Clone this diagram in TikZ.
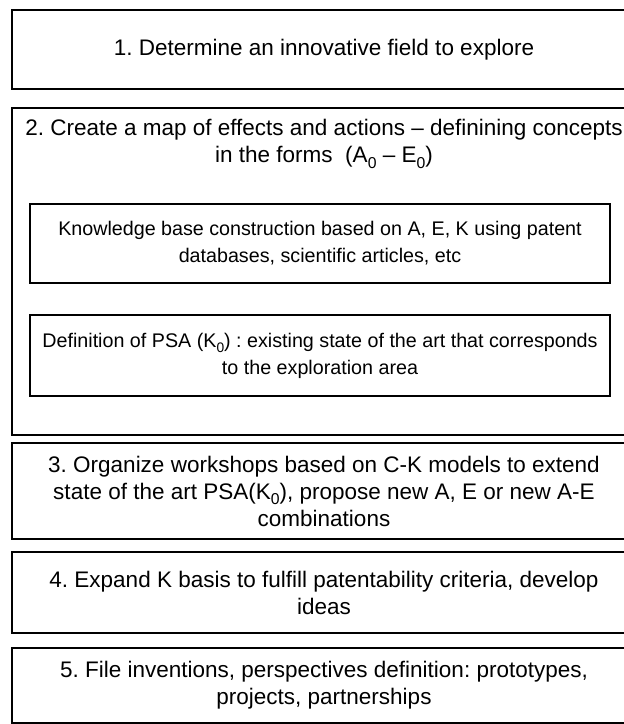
\documentclass[tikz,border=0pt]{standalone}
\usepackage{fontspec}
\setmainfont{Liberation Sans}
\usepackage{tikz}
\frenchspacing
\newcommand{\lowsub}[1]{\raisebox{-0.5ex}{\scalebox{0.7}{#1}}}

\begin{document}
\begin{tikzpicture}[x=0.5pt, y=-0.5pt,
    stepbox/.style={draw, line width=1.1pt, inner sep=0pt, outer sep=0pt,
        anchor=north west, align=center, minimum width=312pt,
        font=\fontsize{11.25}{13.5}\selectfont},
    subbox/.style={draw, line width=1pt, inner sep=0pt, outer sep=0pt,
        anchor=north west, align=center, minimum width=290pt,
        font=\fontsize{9.85}{13.5}\selectfont}]
\useasboundingbox (0, 0) rectangle (623, 724);

\node[stepbox, minimum height=39.5pt] (step_1) at (12, 10)
    {1. Determine an innovative field to explore};
\node[stepbox, minimum height=163.5pt] (step_2) at (12, 108) {};
\node[align=center, font=\fontsize{11.25}{13.5}\selectfont] (step_2_title) at (324, 144)
    {2. Create a map of effects and actions -- definining concepts\\
     in the forms\ \ (A\lowsub{0} -- E\lowsub{0})};
\node[subbox, minimum height=39.5pt] (sub_kb) at (30, 204)
    {Knowledge base construction based on A, E, K using patent\\
     databases, scientific articles, etc};
\node[subbox, minimum height=40.5pt] (sub_psa) at (30, 315)
    {Definition of PSA (K\lowsub{0}) : existing state of the art that corresponds\\
     to the exploration area};
\node[stepbox, minimum height=48pt] (step_3) at (12, 443)
    {3. Organize workshops based on C-K models to extend\\
     state of the art PSA(K\lowsub{0}), propose new A, E or new A-E\\
     combinations};
\node[stepbox, minimum height=40.5pt] (step_4) at (12, 552)
    {4. Expand K basis to fulfill patentability criteria, develop\\
     ideas};
\node[stepbox, minimum height=37.5pt] (step_5) at (12, 648)
    {5. File inventions, perspectives definition: prototypes,\\
     projects, partnerships};
\end{tikzpicture}
\end{document}
